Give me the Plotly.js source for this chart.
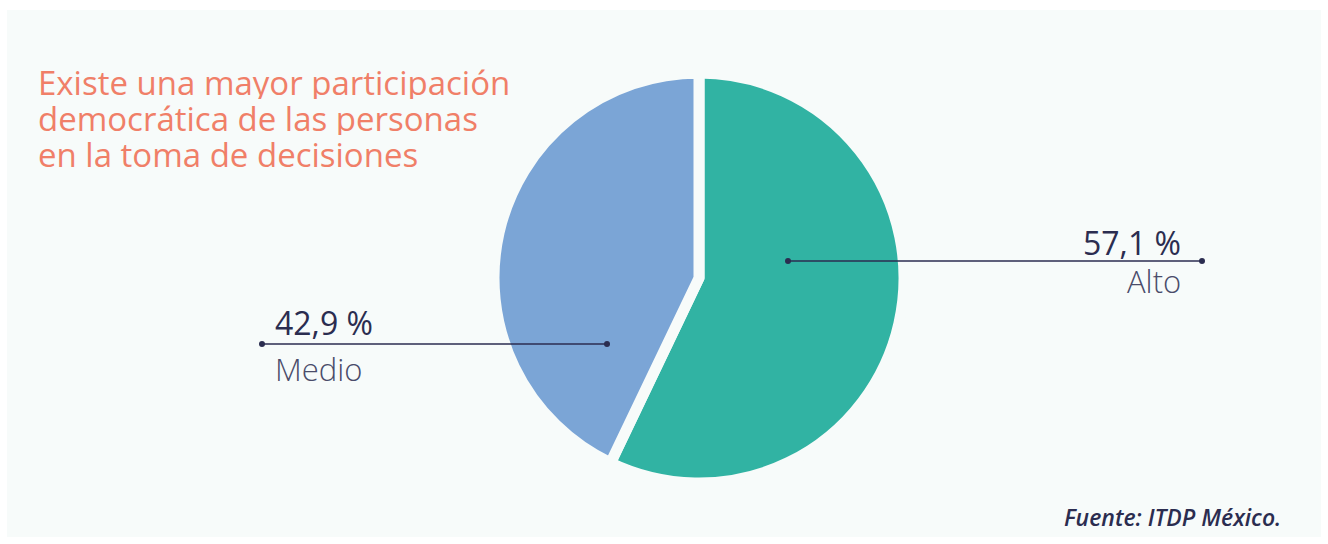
<!DOCTYPE html>
<html>
<head>
<meta charset="utf-8">
<script src="https://cdn.plot.ly/plotly-3.0.1.min.js"></script>
<style>
html,body{margin:0;padding:0;background:#ffffff;}
#chart{width:1328px;height:544px;}
</style>
</head>
<body>
<div id="chart"></div>
<script>
// ---- data ----
const categories = ["Alto", "Medio"];
const values = [57.1, 42.9];
const sliceColors = ["#31b3a3", "#7ba5d6"];
const titleLines = ["Existe una mayor participación", "democrática de las personas", "en la toma de decisiones"];
const sourceText = "Fuente: ITDP México.";

// ---- layout helpers ----
const W = 1328, H = 544;
const px = x => x / W;
const py = y => 1 - y / H;
const panelBg = "#f7fbfa";
const ink = "#2b2d50";

// pie placement (pixels)
const cx = 699, cy = 278, R = 205;

// label callouts
const callouts = [
  {i: 0, x0: 788, x1: 1202, y: 261, tx: 1183, anchor: "right", numOff: 5, catOff: -3},
  {i: 1, x0: 262, x1: 607, y: 344, tx: 273, anchor: "left", numOff: 2, catOff: 2}
];

const fmt = v => v.toFixed(1).replace(".", ",") + " %";

const shapes = [{
  type: "rect", xref: "paper", yref: "paper", layer: "below",
  x0: px(7), x1: px(1321), y0: py(10), y1: py(537),
  fillcolor: panelBg, line: {width: 0}
}];
const annotations = [];
callouts.forEach(c => {
  shapes.push({type: "line", xref: "paper", yref: "paper",
    x0: px(c.x0), x1: px(c.x1), y0: py(c.y), y1: py(c.y),
    line: {color: ink, width: 1.6}});
  [c.x0, c.x1].forEach(xx => shapes.push({type: "circle", xref: "paper", yref: "paper",
    x0: px(xx - 3), x1: px(xx + 3), y0: py(c.y - 3), y1: py(c.y + 3),
    fillcolor: ink, line: {width: 0}}));
  annotations.push({xref: "paper", yref: "paper", x: px(c.tx), y: py(c.y + c.numOff),
    xanchor: c.anchor, yanchor: "bottom", showarrow: false,
    text: fmt(values[c.i]),
    font: {family: "Open Sans", size: 32, color: ink}});
  annotations.push({xref: "paper", yref: "paper", x: px(c.tx), y: py(c.y + c.catOff),
    xanchor: c.anchor, yanchor: "top", showarrow: false,
    text: categories[c.i],
    font: {family: "Open Sans", size: 31, weight: 300, color: "#4a4c6a"}});
});
// title lines
titleLines.forEach((t, k) => {
  annotations.push({xref: "paper", yref: "paper", x: px(36), y: py(82 + 36 * k),
    xanchor: "left", yanchor: "middle", height: 34, valign: "middle", showarrow: false, text: t,
    font: {family: "Open Sans", size: 33, weight: 500, color: "#f07f68"}});
});
annotations.push({xref: "paper", yref: "paper", x: px(1283), y: py(535),
  xanchor: "right", yanchor: "bottom", showarrow: false,
  text: "<i>" + sourceText + "</i>",
  font: {family: "Open Sans", size: 23, weight: 600, color: ink}});

const trace = {
  type: "pie",
  labels: categories,
  values: values,
  sort: false,
  direction: "clockwise",
  rotation: 0,
  textinfo: "none",
  hoverinfo: "label+value",
  showlegend: false,
  marker: {colors: sliceColors, line: {color: panelBg, width: 11}},
  domain: {x: [px(cx - R), px(cx + R)], y: [py(cy + R), py(cy - R)]}
};

const layout = {
  width: W, height: H,
  margin: {l: 0, r: 0, t: 0, b: 0},
  paper_bgcolor: "#ffffff",
  plot_bgcolor: "#ffffff",
  showlegend: false,
  shapes: shapes,
  annotations: annotations
};

Plotly.newPlot("chart", [trace], layout, {displayModeBar: false, staticPlot: true});
</script>
</body>
</html>
